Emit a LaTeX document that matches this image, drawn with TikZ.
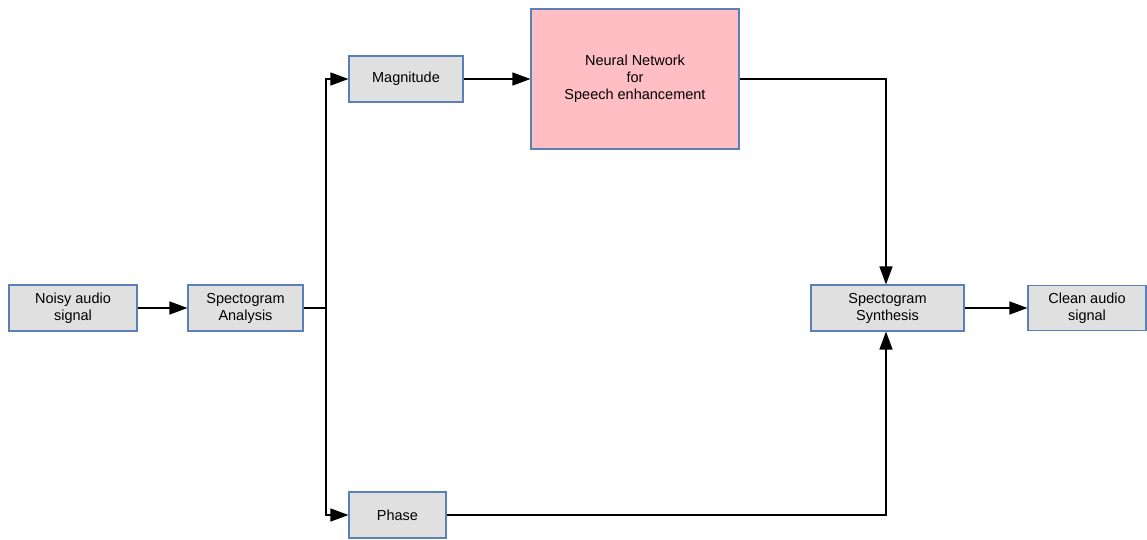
\documentclass[tikz,border=0pt]{standalone}
\usepackage{fontspec}
\setmainfont{Liberation Sans}
\usetikzlibrary{arrows.meta}
\definecolor{boxline}{HTML}{5B80B8}
\definecolor{boxfill}{HTML}{E0E0E0}
\definecolor{nnfill}{HTML}{FFBEC3}
\tikzset{
  x=1pt, y=-1pt,
  block/.style={draw=boxline, fill=boxfill, line width=1.1pt, inner sep=0pt,
    align=center, font=\fontsize{14.5}{17}\selectfont},
  flow/.style={line width=1.3pt, -{Triangle[length=18pt,width=13pt]}},
  wire/.style={line width=1.3pt}
}
\begin{document}
\begin{tikzpicture}
\useasboundingbox (0,0) rectangle (1147,539);
% processing stages
\node[block, minimum width=128pt, minimum height=46pt] (noisy) at (73,308) {Noisy audio\\signal};
\node[block, minimum width=115pt, minimum height=46pt] (ana) at (245.5,308) {Spectogram\\Analysis};
\node[block, minimum width=114pt, minimum height=46pt] (mag) at (406,79) {Magnitude};
\node[block, fill=nnfill, minimum width=208pt, minimum height=140pt] (nn) at (635,79) {Neural Network\\for\\Speech enhancement};
\node[block, minimum width=97pt, minimum height=46pt] (phase) at (397.5,515) {Phase};
\node[block, minimum width=153pt, minimum height=46pt] (syn) at (887.5,308) {Spectogram\\Synthesis};
\node[block, minimum width=118pt, minimum height=45pt] (clean) at (1087,308) {Clean audio\\signal};
% branch points
\coordinate (split) at (326,308);
\coordinate (nnturn) at (886,79);
\coordinate (phturn) at (886,515);
% connectors
\draw[flow] (noisy) -- (ana);
\draw[wire] (ana.east) -- (split);
\draw[flow] (split) |- (mag.west);
\draw[flow] (split) |- (phase.west);
\draw[flow] (mag) -- (nn.west |- mag.east);
\draw[flow] (nn.east |- nnturn) -| (syn.north -| nnturn);
\draw[flow] (phase.east) -| (syn.south -| phturn);
\draw[flow] (syn) -- (clean);
\end{tikzpicture}
\end{document}
